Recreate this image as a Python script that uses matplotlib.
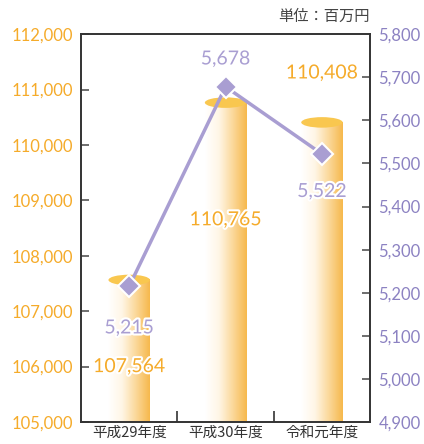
import numpy as np
import matplotlib
matplotlib.use("Agg")
import matplotlib.pyplot as plt
import matplotlib.patheffects as pe
from matplotlib.patches import Ellipse
from matplotlib.colors import LinearSegmentedColormap

plt.rcParams['font.family'] = ['Lato', 'Noto Sans CJK JP', 'DejaVu Sans']

# data
years = ['平成29年度', '平成30年度', '令和元年度']
revenue = [107564, 110765, 110408]     # bars, left axis
profit = [5215, 5678, 5522]            # line, right axis
left_ticks = [105000, 106000, 107000, 108000, 109000, 110000, 111000, 112000]
right_ticks = [4900, 5000, 5100, 5200, 5300, 5400, 5500, 5600, 5700, 5800]

orange = '#f5ab2a'
purple = '#a99ed2'
purple_txt = '#8c82c2'

fig = plt.figure(figsize=(4.24, 4.44), dpi=100)
ax = fig.add_axes([0.191, 0.0495, 0.682, 0.8735])
ax2 = ax.twinx()

x = np.arange(len(years))
w = 0.43
cmap = LinearSegmentedColormap.from_list('cyl', ['#ffffff', '#fff6e6', '#fbd89a', '#f6b84c'])
grad = np.linspace(0, 1, 256).reshape(1, -1)
ell_h = 190
for i, v in enumerate(revenue):
    ax.imshow(grad, cmap=cmap, aspect='auto', extent=[i - w / 2, i + w / 2, 105000, v],
              zorder=2, interpolation='bilinear')
    ax.add_patch(Ellipse((i, v), w, ell_h, color='#f9c74f', zorder=3, lw=0))

ax.set_xlim(-0.5, 2.5)
ax.set_ylim(105000, 112000)
ax.set_yticks(left_ticks)
ax.set_yticklabels([f'{t:,}' for t in left_ticks])
ax.set_xticks([0.5, 1.5], minor=False)
ax.set_xticklabels([])
ax.set_xticks(x, minor=True)
ax.set_xticklabels(years, minor=True, family=['Noto Sans CJK JP'], fontsize=10.5, color='#333333')
ax.tick_params(axis='x', which='major', direction='in', length=8, width=1.2, color='#333333')
ax.tick_params(axis='x', which='minor', length=0, pad=3)
ax.tick_params(axis='y', direction='in', length=6, width=1.2, color='#555555',
               labelcolor=orange, labelsize=12, pad=6)

ax2.plot(x, profit, color=purple, lw=2.5, marker='D', markersize=11,
         markerfacecolor=purple, markeredgecolor='white', markeredgewidth=1.5, zorder=5)
ax2.set_ylim(4900, 5800)
ax2.set_yticks(right_ticks)
ax2.set_yticklabels([f'{t:,}' for t in right_ticks])
ax2.tick_params(axis='y', direction='in', length=6, width=1.2, color='#555555',
                labelcolor=purple_txt, labelsize=12, pad=6)

for a in (ax, ax2):
    for s in a.spines.values():
        s.set_color('#333333')
        s.set_linewidth(1.2)

stroke = [pe.withStroke(linewidth=3, foreground='white')]

# line labels
offs = [-30, 20, -27]
for i, v in enumerate(profit):
    ax2.annotate(f'{v:,}', (i, v), xytext=(0, offs[i]), textcoords='offset points',
                 ha='center', va='center', color=purple, fontsize=14, path_effects=stroke, zorder=6)

# bar labels
bar_pos = [(0, 106000), (1, 108650), (2, 111300)]
for i, v in enumerate(revenue):
    bx, by = bar_pos[i]
    ax2.text(bx, by, f'{v:,}', transform=ax.transData, ha='center', va='center',
             color=orange, fontsize=14, path_effects=stroke, zorder=6)

fig.text(0.873, 0.963, '単位：百万円', ha='right', va='center', fontsize=11,
         color='#444444', family=['Noto Sans CJK JP'])

fig.savefig('out.png', dpi=100)
